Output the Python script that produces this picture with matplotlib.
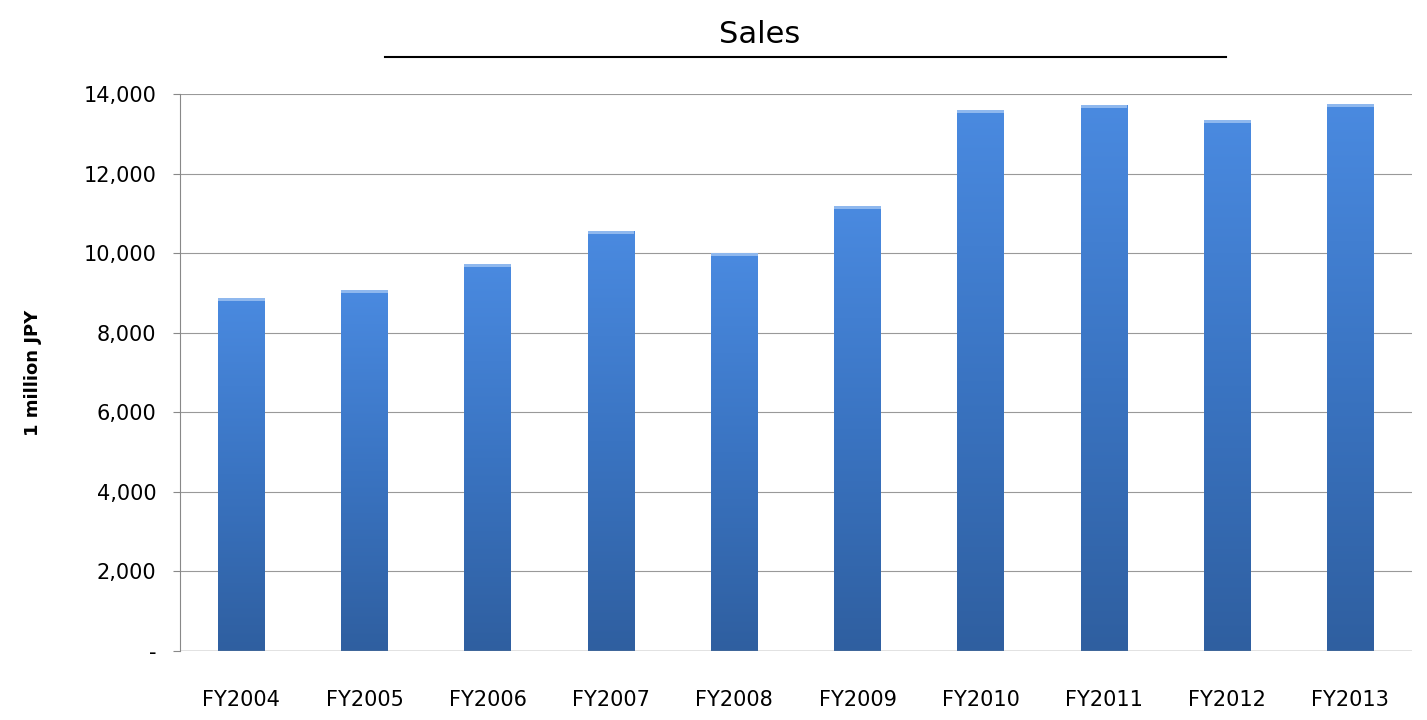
import matplotlib
matplotlib.use("Agg")
import matplotlib.pyplot as plt
import numpy as np
from matplotlib.colors import LinearSegmentedColormap
from matplotlib.lines import Line2D

categories = ["FY2004","FY2005","FY2006","FY2007","FY2008","FY2009","FY2010","FY2011","FY2012","FY2013"]
sales = [8880, 9070, 9730, 10560, 10000, 11190, 13600, 13720, 13350, 13750]
yticks = [0, 2000, 4000, 6000, 8000, 10000, 12000, 14000]
ytick_labels = ["-", "2,000", "4,000", "6,000", "8,000", "10,000", "12,000", "14,000"]

fig = plt.figure(figsize=(14.27, 7.2), dpi=100)
ax = fig.add_axes([0.126, 0.096, 0.8635, 0.773])
x = np.arange(len(categories))
bars = ax.bar(x, sales, width=0.38, color="#3f7fd0", zorder=2)

cmap = LinearSegmentedColormap.from_list("g", ["#2f5fa0", "#3a74c2", "#4a8ae0"])
grad = np.linspace(0, 1, 256).reshape(-1, 1)
for b in bars:
    x0, w, h = b.get_x(), b.get_width(), b.get_height()
    im = ax.imshow(grad, cmap=cmap, aspect="auto", origin="lower",
                   extent=[x0, x0 + w, 0, h], zorder=3)
    im.set_clip_path(b)
    hcap = np.linspace(0, 1, 64).reshape(1, -1)
    ax.add_patch(plt.Rectangle((x0, h - 70), w, 70, color="#8fb8ee", zorder=4, lw=0))

ax.set_xlim(-0.5, len(categories) - 0.5)
ax.set_ylim(0, 14000)
ax.set_yticks(yticks)
ax.set_yticklabels(ytick_labels, fontsize=15)
ax.set_xticks(x)
ax.set_xticklabels(categories, fontsize=15)
ax.tick_params(axis="x", length=0, pad=28)
ax.tick_params(axis="y", length=5, color="#888888", pad=12)
ax.grid(axis="y", color="#999999", lw=0.8, zorder=0)
for s in ["top", "right", "bottom"]:
    ax.spines[s].set_visible(False)
ax.spines["left"].set_color("#888888")
ax.axhline(0, color="#888888", lw=1, zorder=5)
ax.set_ylabel("1 million JPY", fontsize=13, fontweight="bold", labelpad=30)

fig.text(0.532, 0.952, "Sales", ha="center", va="center", fontsize=22)
fig.add_artist(Line2D([385/1427, 1226/1427], [1 - 57/720, 1 - 57/720], color="black", lw=1.5))
fig.savefig("out.png", dpi=100)
